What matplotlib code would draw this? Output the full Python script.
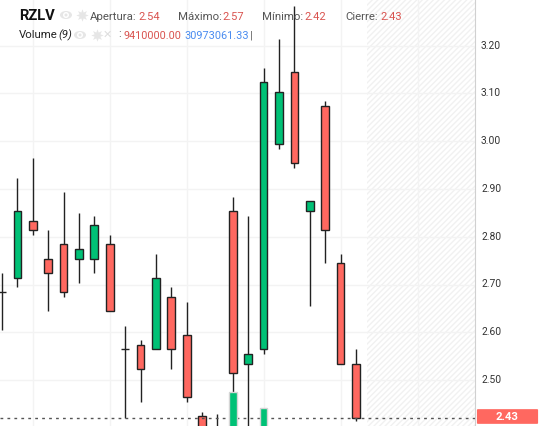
# Candlestick chart for RZLV with volume bars and header legend

import numpy as np
import matplotlib
matplotlib.use('Agg')
import matplotlib.pyplot as plt
from matplotlib.patches import Ellipse, FancyBboxPatch
from matplotlib.transforms import ScaledTranslation

W, H = 541, 426

# OHLC
opens = [2.684, 2.714, 2.834, 2.754, 2.784, 2.754, 2.754, 2.784, 2.564, 2.574, 2.564, 2.674, 2.594, 2.424, 2.39, 2.854, 2.534, 2.564, 2.994, 3.144, 2.854, 3.074, 2.744, 2.534]
highs = [2.724, 2.924, 2.964, 2.814, 2.894, 2.849, 2.844, 2.804, 2.614, 2.584, 2.764, 2.694, 2.664, 2.434, 2.429, 2.884, 2.844, 3.154, 3.214, 3.284, 2.874, 3.084, 2.764, 2.564]
lows = [2.604, 2.694, 2.804, 2.644, 2.674, 2.704, 2.724, 2.644, 2.4215, 2.454, 2.564, 2.524, 2.454, 2.36, 2.36, 2.38, 2.38, 2.554, 2.984, 2.944, 2.654, 2.744, 2.534, 2.414]
closes = [2.684, 2.854, 2.814, 2.724, 2.684, 2.774, 2.824, 2.644, 2.564, 2.524, 2.714, 2.564, 2.464, 2.38, 2.38, 2.514, 2.554, 3.124, 3.104, 2.954, 2.874, 2.814, 2.534, 2.4215]

# Only two volume bars show, the others are below the crop
volumes = [14, 22, 18, 12, 16, 11, 13, 20, 9, 15, 24, 17, 19, 12, 10, 74, 30, 58, 36, 33, 8, 25, 21, 9.41]

price_ticks = [2.50, 2.60, 2.70, 2.80, 2.90, 3.00, 3.10, 3.20]
time_grid = [2, 7, 12, 17, 22, 27]
last_level = 2.4215
last_label = '2.43'

UP = '#00C176'
DOWN = '#FF6860'
TEXT_RED = '#D9534F'
TEXT_BLUE = '#4A8CF0'
GREY = '#555555'


def px(x, y):
    return x / W, 1 - y / H


def label(x, y, s, color=GREY, size=8, **kw):
    fig.text(*px(x, y), s, color=color, fontsize=size, va='center', ha=kw.pop('ha', 'left'),
             family=['Roboto', 'DejaVu Sans'], **kw)


def eye(x, y):
    fig.add_artist(Ellipse(px(x, y), 12 / W, 8 / H, transform=fig.transFigure, fc='#e6e6e6', ec='none'))
    fig.add_artist(Ellipse(px(x, y), 6 / W, 6 / H, transform=fig.transFigure, fc='white', ec='none'))
    fig.add_artist(Ellipse(px(x, y), 3 / W, 3 / H, transform=fig.transFigure, fc='#e6e6e6', ec='none'))


def gear(x, y):
    fig.add_artist(plt.Line2D([x / W], [1 - y / H], transform=fig.transFigure, marker=(8, 1, 0),
                              markersize=9, color='#e6e6e6', mew=0))
    fig.add_artist(Ellipse(px(x, y), 3 / W, 3 / H, transform=fig.transFigure, fc='white', ec='none'))


fig = plt.figure(figsize=(W / 100, H / 100), dpi=100)
ax = fig.add_axes([0, 0, 474.5 / W, 1])

x = np.arange(len(opens))
o, h, l, c = map(np.array, (opens, highs, lows, closes))
colors = [UP if cl > op else DOWN for op, cl in zip(o, c)]

ax.set_xlim(-0.13, 30.7)
ax.set_ylim(2.4037, 3.2958)

ax.axvspan(23.7, 30.7, facecolor='none', edgecolor='#f1f1f1', hatch='//////', lw=0, zorder=0)
for g in time_grid:
    ax.axvline(g, color='#f3f3f3', lw=1, zorder=1)
for p in price_ticks:
    ax.axhline(p, color='#f3f3f3', lw=1, zorder=1)

ax.vlines(x, l, h, color='#222222', lw=1, zorder=2)
ax.bar(x, c - o, bottom=o, width=0.5, color=colors, edgecolor='#222222', lw=1, zorder=3)
ax.axhline(last_level, color='#555555', lw=1, dashes=(2, 3), zorder=4)

ax.yaxis.tick_right()
ax.set_yticks(price_ticks)
ax.set_yticklabels([f'{p:.2f}' for p in price_ticks], fontsize=7.4, color='#333333', family='Roboto')
ax.tick_params(axis='y', length=0, pad=4.7)
ax.set_xticks([])
# labels sit a bit above their grid lines in the reference
for t in ax.get_yticklabels():
    t.set_transform(t.get_transform() + ScaledTranslation(0, 1.2 / 100, fig.dpi_scale_trans))
for side in ['top', 'left', 'bottom']:
    ax.spines[side].set_visible(False)
ax.spines['right'].set_color('#d0d0d0')

# Volume on its own scale, sitting on top of the candles
ax2 = fig.add_axes(ax.get_position(), sharex=ax)
ax2.patch.set_visible(False)
ax2.set_ylim(40, 466)
ax2.bar(x, volumes, width=0.5, color=UP, edgecolor='#d5d5d5', lw=1)
ax2.axis('off')
ax2.set_xlim(-0.13, 30.7)

# Header
label(19, 15.5, 'RZLV', color='#111111', size=10.6, fontweight='bold')
eye(66, 15)
gear(82, 15)
label(90, 16.5, 'Apertura:', size=8.2)
label(138, 16.5, '2.54', color=TEXT_RED)
label(178, 16.5, 'Máximo:', size=8.2)
label(222, 16.5, '2.57', color=TEXT_RED)
label(262, 16.5, 'Mínimo:', size=8.2)
label(304, 16.5, '2.42', color=TEXT_RED)
label(345, 16.5, 'Cierre:', size=8.2)
label(380, 16.5, '2.43', color=TEXT_RED)

label(19, 35, 'Volume', color='#222222', size=8.2)
label(58, 35, '(9)', color='#222222', style='italic', size=8.2)
eye(80, 35)
gear(97, 35)
label(107, 35, '✕', color='#dddddd', size=8, ha='center', fontweight='bold')
label(118, 34, ':', color=GREY)
label(124, 36, '9410000.00', color=TEXT_RED, size=7.8)
label(184, 36, '30973061.33', color=TEXT_BLUE, size=7.8)
label(250, 35, '|', color=GREY)

# Last price tag
fig.add_artist(FancyBboxPatch(px(478, 423), 59 / W, 13 / H, boxstyle='round,pad=0.002',
                              transform=fig.transFigure, fc=DOWN, ec='none'))
label(507, 416.5, last_label, color='white', size=8.2, fontweight='bold', ha='center')

fig.savefig('out.png', dpi=100)
